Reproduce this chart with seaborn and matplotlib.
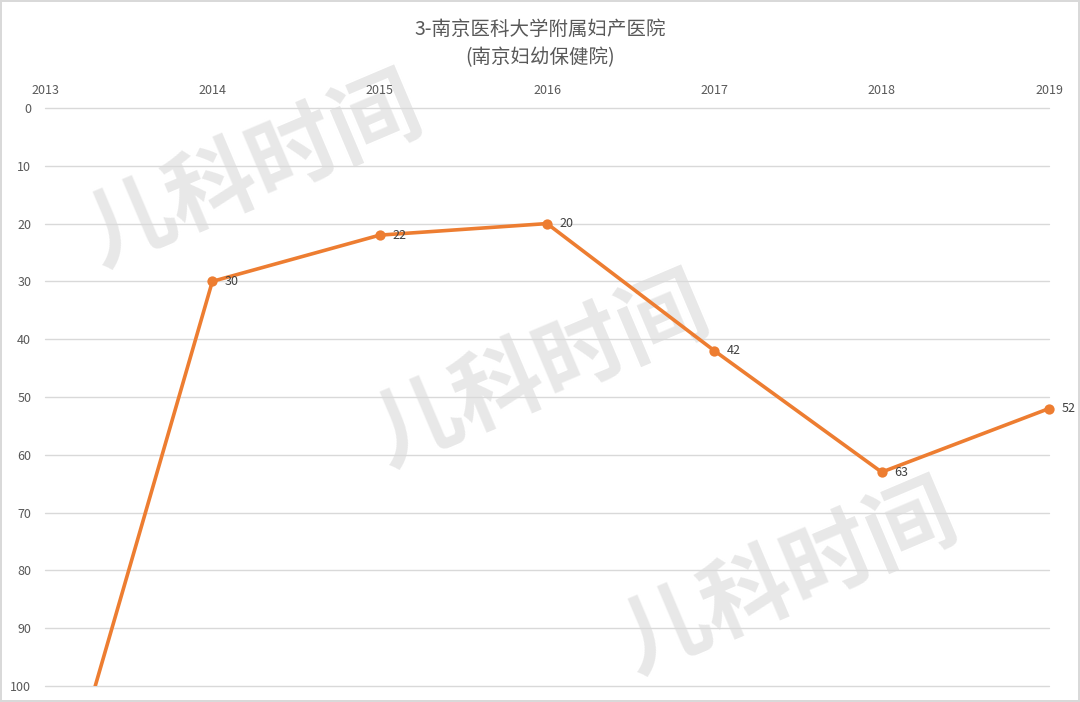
import matplotlib
matplotlib.use('Agg')
import matplotlib.pyplot as plt
import seaborn as sns

# rank per year (2013 lies below the visible range)
years = [2013, 2014, 2015, 2016, 2017, 2018, 2019]
ranks = [130, 30, 22, 20, 42, 63, 52]
y_ticks = [0, 10, 20, 30, 40, 50, 60, 70, 80, 90, 100]
title = '3-南京医科大学附属妇产医院\n(南京妇幼保健院)'
watermark = '儿科时间'

sns.set_theme(style='white')
plt.rcParams['font.family'] = ['Noto Sans CJK SC', 'DejaVu Sans']

fig = plt.figure(figsize=(10.8, 7.02), dpi=100)
fig.patch.set_edgecolor('#d9d9d9')
fig.patch.set_linewidth(1.5)

# watermark, behind the chart
for wx, wy in [(0.235, 0.755), (0.50, 0.47), (0.73, 0.175)]:
    fig.text(wx, wy, watermark, ha='center', va='center', fontsize=64,
             fontweight='bold', color='#e8e8e8', rotation=23, zorder=0,
             style='italic')

ax = fig.add_axes([0.0417, 0.0228, 0.9296, 0.8234])
ax.set_zorder(2)
ax.patch.set_alpha(0)

for t in y_ticks:
    ax.axhline(t, color='#d9d9d9', lw=1, zorder=1, clip_on=False)

sns.lineplot(x=years, y=ranks, ax=ax, color='#ED7D31', lw=2.6, zorder=4)

vis = [(x, y) for x, y in zip(years, ranks) if y <= 100]
vx = [p[0] for p in vis]
vy = [p[1] for p in vis]
sns.scatterplot(x=vx, y=vy, ax=ax, color='#ED7D31', s=55, linewidth=0,
                zorder=5, clip_on=False)

for x, y in vis:
    ax.annotate(str(y), (x, y), xytext=(9, 0), textcoords='offset points',
                va='center', ha='left', fontsize=9, color='#404040', zorder=6)

ax.set_xlim(2013, 2019)
ax.set_ylim(100, 0)
ax.set_xticks(years)
ax.set_xticklabels([str(y) for y in years])
ax.set_yticks(y_ticks)
ax.xaxis.tick_top()
ax.tick_params(axis='both', length=0, labelsize=9, colors='#595959')
ax.tick_params(axis='x', pad=8)
ax.tick_params(axis='y', pad=10)
for s in ax.spines.values():
    s.set_visible(False)

fig.text(0.5, 0.938, title, ha='center', va='center', fontsize=14,
         color='#595959', linespacing=1.5)

fig.savefig('out.png', dpi=100)
